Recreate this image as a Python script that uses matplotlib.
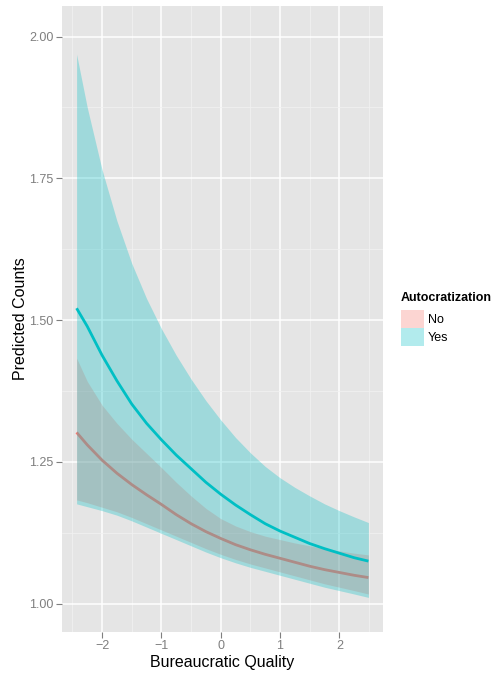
import matplotlib
matplotlib.use("Agg")
import matplotlib.pyplot as plt
from matplotlib.patches import Patch
from matplotlib.ticker import FixedLocator

plt.rcParams['font.family'] = ['Liberation Sans', 'DejaVu Sans']

# Data
bq = [-2.43, -2.25, -2.0, -1.75, -1.5, -1.25, -1.0, -0.75, -0.5, -0.25, 0.0,
      0.25, 0.5, 0.75, 1.0, 1.25, 1.5, 1.75, 2.0, 2.25, 2.49]

yes_fit = [1.521, 1.489, 1.438, 1.393, 1.352, 1.318, 1.289, 1.262, 1.238, 1.214, 1.193,
           1.174, 1.157, 1.141, 1.128, 1.117, 1.106, 1.097, 1.089, 1.081, 1.075]
yes_hi  = [1.969, 1.875, 1.765, 1.675, 1.600, 1.538, 1.485, 1.438, 1.396, 1.358, 1.324,
           1.293, 1.266, 1.242, 1.222, 1.205, 1.190, 1.176, 1.164, 1.153, 1.143]
yes_lo  = [1.176, 1.171, 1.164, 1.156, 1.146, 1.135, 1.124, 1.113, 1.102, 1.091, 1.081,
           1.072, 1.064, 1.057, 1.050, 1.043, 1.036, 1.029, 1.023, 1.017, 1.011]

no_fit = [1.302, 1.280, 1.253, 1.230, 1.210, 1.192, 1.175, 1.157, 1.141, 1.127, 1.115,
          1.104, 1.095, 1.087, 1.080, 1.073, 1.066, 1.060, 1.055, 1.050, 1.046]
no_hi  = [1.433, 1.392, 1.350, 1.318, 1.290, 1.265, 1.240, 1.214, 1.190, 1.168, 1.150,
          1.137, 1.127, 1.119, 1.113, 1.107, 1.102, 1.097, 1.093, 1.089, 1.086]
no_lo  = [1.183, 1.178, 1.170, 1.162, 1.152, 1.141, 1.130, 1.119, 1.108, 1.097, 1.087,
          1.078, 1.070, 1.063, 1.056, 1.049, 1.042, 1.035, 1.029, 1.023, 1.017]

x_ticks = [-2, -1, 0, 1, 2]
x_labels = ["\u22122", "\u22121", "0", "1", "2"]
y_ticks = [1.00, 1.25, 1.50, 1.75, 2.00]
y_labels = ["1.00", "1.25", "1.50", "1.75", "2.00"]
groups = ["No", "Yes"]

RED = "#F8766D"
TEAL = "#00BFC4"

fig = plt.figure(figsize=(5.0, 6.73), dpi=100)
ax = fig.add_axes([62/500, 1 - 632/673, (383 - 62)/500, (632 - 6)/673])
ax.set_facecolor("#E5E5E5")

# No group
ax.fill_between(bq, no_lo, no_hi, color=RED, alpha=0.3, linewidth=0, zorder=2)
ax.plot(bq, no_fit, color=RED, linewidth=2.0, zorder=3, solid_capstyle='butt',
        solid_joinstyle='round')
# Yes group
ax.fill_between(bq, yes_lo, yes_hi, color=TEAL, alpha=0.3, linewidth=0, zorder=4)
ax.plot(bq, yes_fit, color=TEAL, linewidth=2.0, zorder=5, solid_capstyle='butt',
        solid_joinstyle='round')

ax.set_xlim(-2.676, 2.736)
ax.set_ylim(0.950, 2.054)

ax.xaxis.set_major_locator(FixedLocator(x_ticks))
ax.set_xticklabels(x_labels)
ax.yaxis.set_major_locator(FixedLocator(y_ticks))
ax.set_yticklabels(y_labels)
ax.xaxis.set_minor_locator(FixedLocator([-2.5, -1.5, -0.5, 0.5, 1.5, 2.5]))
ax.yaxis.set_minor_locator(FixedLocator([1.125, 1.375, 1.625, 1.875]))

ax.grid(which='major', color='white', linewidth=1.1, zorder=1)
ax.grid(which='minor', color='#F2F2F2', linewidth=0.5, zorder=1)
ax.set_axisbelow(True)
for s in ax.spines.values():
    s.set_visible(False)

ax.tick_params(which='major', length=4, width=0.8, color='#7F7F7F',
               labelcolor='#7F7F7F', labelsize=9, pad=2)
ax.tick_params(which='minor', length=0)

ax.set_xlabel("Bureaucratic Quality", fontsize=11.5, color='black', labelpad=2)
ax.set_ylabel("Predicted Counts", fontsize=11.5, color='black', labelpad=1)

handles = [Patch(facecolor=RED, alpha=0.3, edgecolor='none'),
           Patch(facecolor=TEAL, alpha=0.3, edgecolor='none')]
leg = fig.legend(handles, groups, title="Autocratization",
                 loc='upper left', bbox_to_anchor=(401/500, 1 - 292/673),
                 frameon=False, fontsize=9, title_fontsize=9,
                 handlelength=1.84, handleheight=1.84, handletextpad=0.3,
                 labelspacing=0.0, borderpad=0.0, borderaxespad=0)
leg.get_title().set_fontweight('bold')
leg._legend_box.align = "left"
leg._legend_box.sep = 4

fig.savefig("out.png", dpi=100)
